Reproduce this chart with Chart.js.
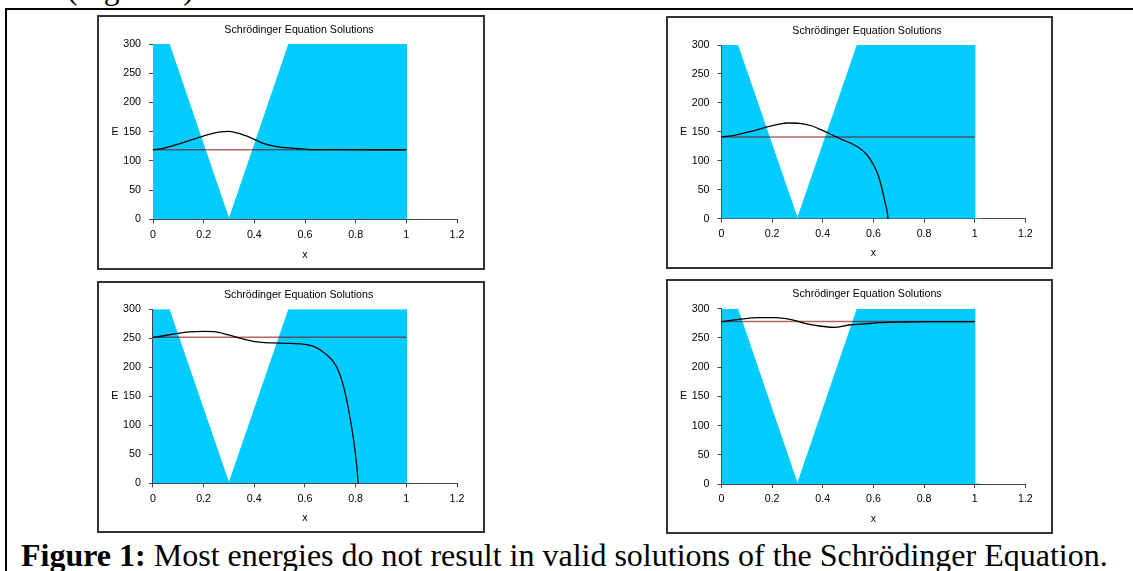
<!DOCTYPE html>
<html>
<head>
<meta charset="utf-8">
<script src="https://cdn.jsdelivr.net/npm/chart.js@4"></script>
<style>
  body { margin: 0; width: 1133px; height: 571px; overflow: hidden; background: #fff; position: relative;
         font-family: "Liberation Serif", "Times New Roman", serif; }
  .frame { position: absolute; left: 5px; top: 8px; width: 1200px; height: 700px;
           border-top: 2px solid #000; border-left: 2px solid #000; }
  .box { position: absolute; box-sizing: border-box; border: 2px solid #333; background: #fff; }
  .box canvas { display: block; }
  .toptext { position: absolute; left: 67px; top: -27px; font-size: 31.5px; line-height: 31.5px; white-space: nowrap; }
  .caption { position: absolute; left: 21px; top: 537px; font-size: 32px; line-height: 36px; white-space: nowrap; }
</style>
</head>
<body>
<div class="toptext">(Figure 1)</div>
<div class="frame"></div>
<div class="box" style="left:97px;top:15px;width:388px;height:255px"><canvas id="c1" width="384" height="251"></canvas></div>
<div class="box" style="left:666px;top:16px;width:387px;height:253px"><canvas id="c2" width="383" height="249"></canvas></div>
<div class="box" style="left:97px;top:281px;width:388px;height:252px"><canvas id="c3" width="384" height="248"></canvas></div>
<div class="box" style="left:666px;top:279px;width:387px;height:255px"><canvas id="c4" width="383" height="251"></canvas></div>
<div class="caption"><b>Figure 1:</b> Most energies do not result in valid solutions of the Schrödinger Equation.</div>
<script>
// axis ticks
const xTicks = [0, 0.2, 0.4, 0.6, 0.8, 1, 1.2];
const yTicks = [0, 50, 100, 150, 200, 250, 300];

// potential well (same in all four panels)
const potX = [0, 0.3, 1, 1, 1.02];
const potV = [381, 0, 889, 0, 0];

// trial energies, one per panel
const energies = [119, 141, 252, 278];
const energyX = [0, 1];

// wave function traces
const psi1X = [0, 0.033, 0.066, 0.119, 0.171, 0.237, 0.297, 0.369, 0.435, 0.488, 0.554, 0.607, 0.7, 1];
const psi1Y = [119, 121, 124.4, 131.2, 138.6, 147.2, 150.5, 142.6, 130.1, 124.4, 121.5, 119.8, 119.2, 119];

const psi2X = [0, 0.055, 0.113, 0.17, 0.228, 0.264, 0.308, 0.358, 0.401, 0.438, 0.474, 0.517, 0.546, 0.575, 0.601, 0.621, 0.635, 0.647, 0.657, 0.662];
const psi2Y = [141, 144.5, 150.3, 157.2, 163.5, 165.3, 164.7, 160.1, 152, 144.5, 137, 129, 121.5, 110, 92.7, 72.5, 49.5, 26.5, 3.5, -30];

const psi3X = [0, 0.059, 0.144, 0.2, 0.242, 0.299, 0.355, 0.411, 0.468, 0.524, 0.594, 0.637, 0.679, 0.721, 0.749, 0.77, 0.792, 0.806, 0.81, 0.815];
const psi3Y = [251.5, 255.7, 261, 262, 261.5, 255.7, 248.9, 243.7, 242, 241.4, 239.7, 235.6, 224, 204, 172.4, 132.2, 74.7, 23, 0, -40];

const psi4X = [0, 0.069, 0.142, 0.214, 0.271, 0.329, 0.387, 0.445, 0.503, 0.56, 0.632, 0.733, 0.806, 1];
const psi4Y = [277.8, 281.8, 284.7, 284.7, 281.8, 275, 270.4, 268.1, 272.1, 273.8, 276.1, 277.2, 277.8, 277.8];

const psiX = [psi1X, psi2X, psi3X, psi4X];
const psiY = [psi1Y, psi2Y, psi3Y, psi4Y];

const chartTitle = 'Schrödinger Equation Solutions';

// per panel plot geometry (canvas pixels)
const layouts = [
  { id: 'c1', yw: 54, padR: 26, padT: 27, xh: 48.7, tx: 200, ty: 13, xtBot: 6.8 },
  { id: 'c2', yw: 53.5, padR: 25.7, padT: 27, xh: 48.3, tx: 199, ty: 13.3, xtBot: 7.4 },
  { id: 'c3', yw: 53.9, padR: 26, padT: 26.3, xh: 47.7, tx: 199.6, ty: 12.3, xtBot: 6.4 },
  { id: 'c4', yw: 53.5, padR: 25.7, padT: 27.7, xh: 48, tx: 199, ty: 13.3, xtBot: 6.4 }
];

const FONT = { family: '"Liberation Sans", Arial, sans-serif', size: 10.67 };
Chart.defaults.font.family = FONT.family;
Chart.defaults.font.size = FONT.size;
Chart.defaults.color = '#000';

const pts = (xs, ys) => xs.map((x, i) => ({ x: x, y: ys[i] }));

// chart title and the horizontal "E" label left of the value axis
const labels = {
  id: 'labels',
  afterDraw(chart, args, opts) {
    const { ctx, chartArea } = chart;
    ctx.save();
    ctx.font = FONT.size + 'px ' + FONT.family;
    ctx.fillStyle = '#000';
    ctx.textAlign = 'center';
    ctx.textBaseline = 'middle';
    ctx.fillText('E', chartArea.left - 38, (chartArea.top + chartArea.bottom) / 2);
    ctx.fillText(chartTitle, opts.tx, opts.ty);
    ctx.restore();
  }
};

layouts.forEach(function (L, k) {
  new Chart(document.getElementById(L.id).getContext('2d'), {
    type: 'line',
    data: {
      datasets: [
        { data: pts(psiX[k], psiY[k]), borderColor: '#000', borderWidth: 1.3, pointRadius: 0,
          cubicInterpolationMode: 'monotone', fill: false, clip: 0, order: 1 },
        { data: pts(energyX, energyX.map(() => energies[k])), borderColor: 'rgba(128,0,0,0.6)', borderWidth: 1.5,
          pointRadius: 0, fill: false, clip: 0, order: 2 },
        { data: pts(potX, potV), borderColor: '#00CCFF', backgroundColor: '#00CCFF', borderWidth: 1,
          pointRadius: 0, tension: 0, fill: 'origin', clip: 0, order: 3 }
      ]
    },
    options: {
      responsive: false,
      animation: false,
      layout: { padding: { left: 0, right: L.padR, top: L.padT, bottom: 0 } },
      plugins: {
        legend: { display: false },
        tooltip: { enabled: false },
        title: { display: false },
        labels: { tx: L.tx, ty: L.ty }
      },
      scales: {
        x: {
          type: 'linear', min: 0, max: 1.2,
          afterBuildTicks: s => { s.ticks = xTicks.map(v => ({ value: v })); },
          afterFit: s => { s.height = L.xh; },
          ticks: { padding: 5, color: '#000', callback: v => String(v) },
          grid: { drawOnChartArea: false, drawTicks: true, tickLength: 4, color: '#444' },
          border: { display: true, color: '#444', width: 1 },
          title: { display: true, text: 'x', color: '#000', padding: { top: 0, bottom: L.xtBot } }
        },
        y: {
          type: 'linear', min: 0, max: 300,
          afterBuildTicks: s => { s.ticks = yTicks.map(v => ({ value: v })); },
          afterFit: s => { s.width = L.yw; },
          ticks: { padding: 8, color: '#000', callback: v => String(v) },
          grid: { drawOnChartArea: false, drawTicks: true, tickLength: 4, color: '#444' },
          border: { display: true, color: '#444', width: 1 }
        }
      }
    },
    plugins: [labels]
  });
});
</script>
</body>
</html>
